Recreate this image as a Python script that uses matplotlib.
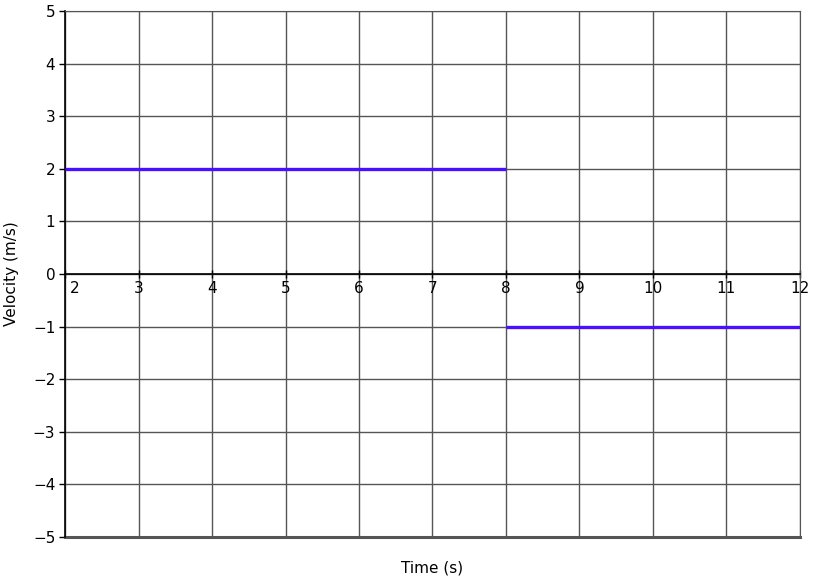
import matplotlib.pyplot as plt
from matplotlib.transforms import ScaledTranslation

# velocity segments (time in s, velocity in m/s)
seg1_t = [2, 8]
seg1_v = [2, 2]
seg2_t = [8, 12]
seg2_v = [-1, -1]

x_ticks = list(range(2, 13))
y_ticks = list(range(-5, 6))

plt.rcParams['font.family'] = ['DejaVu Sans']
plt.rcParams['font.size'] = 11

fig = plt.figure(figsize=(8.16, 5.78), dpi=100)
ax = fig.add_axes([0.0797, 0.0709, 0.9006, 0.9101])

ax.set_xlim(2, 12)
ax.set_ylim(-5, 5)
ax.set_xticks(x_ticks)
ax.set_yticks(y_ticks)
ax.set_yticklabels([str(v).replace('-', '\u2212') for v in y_ticks])

ax.grid(True, color='#555555', linewidth=1.0)
ax.set_axisbelow(True)

ax.plot(seg1_t, seg1_v, color='#4B0FFF', linewidth=2.4, solid_capstyle='butt', zorder=3)
ax.plot(seg2_t, seg2_v, color='#4B0FFF', linewidth=2.4, solid_capstyle='butt', zorder=3)

# x axis drawn through zero
ax.spines['bottom'].set_position(('data', 0))
ax.spines['bottom'].set_color('black')
ax.spines['bottom'].set_linewidth(1.2)
ax.spines['left'].set_color('black')
ax.spines['left'].set_linewidth(1.2)
ax.spines['top'].set_color('#555555')
ax.spines['right'].set_color('#555555')
ax.axhline(-5, color='#555555', linewidth=2.2, zorder=2, clip_on=False)

ax.tick_params(axis='x', direction='inout', length=6, width=1, pad=2)
ax.tick_params(axis='y', direction='out', length=4, width=1, pad=3)
labels = ax.get_xticklabels()
labels[0].set_transform(labels[0].get_transform() + ScaledTranslation(0.10, 0, fig.dpi_scale_trans))

ax.set_xlabel('Time (s)')
ax.xaxis.set_label_coords(0.5, -0.045)
ax.set_ylabel('Velocity (m/s)')
ax.yaxis.set_label_coords(-0.062, 0.5)

fig.savefig('out.png', dpi=100)
